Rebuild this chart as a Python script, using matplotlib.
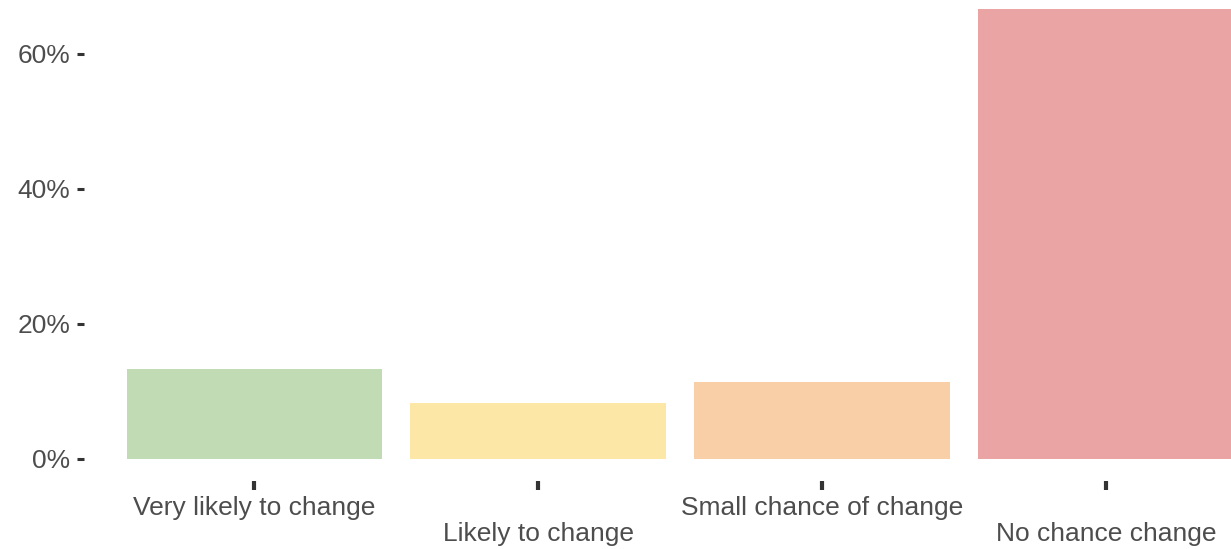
import matplotlib
matplotlib.use('Agg')
import matplotlib.pyplot as plt
from matplotlib.ticker import FuncFormatter

# 数据
categories = ['Very likely to change', 'Likely to change', 'Small chance of change', 'No chance change']
shares = [13.3, 8.3, 11.4, 66.7]
colors = ['#c1dcb4', '#fde7a6', '#f8cfa6', '#eaa4a4']
y_ticks = [0, 20, 40, 60]

plt.rcParams['font.family'] = ['Liberation Sans', 'DejaVu Sans']

fig = plt.figure(figsize=(12.31, 5.49), dpi=100)
# 面板位置 (像素 -> 比例)，右边和上边被裁掉
ax = fig.add_axes([84 / 1231, (549 - 481) / 549, (1231 - 84) / 1231, 481 / 549])

x = list(range(len(categories)))
ax.bar(x, shares, width=0.9, color=colors)

ax.set_xlim(-0.6, 3.44)
ax.set_ylim(-3.26, 68.0)

ax.set_yticks(y_ticks)
ax.yaxis.set_major_formatter(FuncFormatter(lambda v, p: f'{v:.0f}%'))

# 标签交错排列
labels = [c if i % 2 == 0 else '\n' + c for i, c in enumerate(categories)]
ax.set_xticks(x)
ax.set_xticklabels(labels, linespacing=1.07)

ax.tick_params(axis='y', length=5, width=2.2, color='#333333', pad=5,
               labelsize=19, labelcolor='#4d4d4d')
ax.tick_params(axis='x', length=6.5, width=3, color='#333333', pad=4.5,
               labelsize=19, labelcolor='#4d4d4d')

for s in ax.spines.values():
    s.set_visible(False)

fig.savefig('out.png', dpi=100)
